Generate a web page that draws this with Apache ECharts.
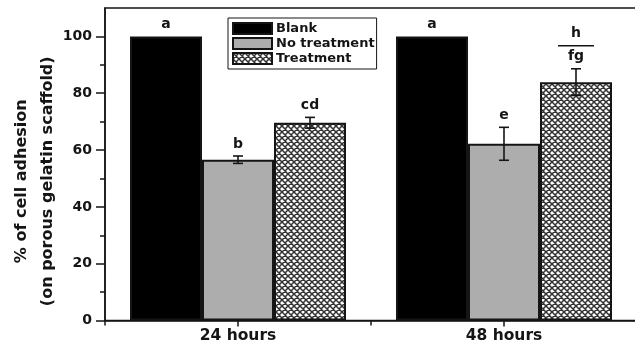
<!DOCTYPE html>
<html><head><meta charset="utf-8">
<script src="https://cdn.jsdelivr.net/npm/echarts@6/dist/echarts.min.js"></script>
<style>html,body{margin:0;padding:0;background:#fff}#c{width:635px;height:344px}</style>
</head><body><div id="c"></div>
<script>
const categories = ['24 hours', '48 hours'];
const seriesNames = ['Blank', 'No treatment', 'Treatment'];
const blankValues = [100, 100];
const noTreatmentValues = [56.6, 62.2];
const treatmentValues = [69.6, 83.9];
const blankErrors = [0, 0];
const noTreatmentErrors = [1.3, 5.8];
const treatmentErrors = [1.9, 4.7];
const blankLetters = ['a', 'a'];
const noTreatmentLetters = ['b', 'e'];
const treatmentLetters = ['cd', 'fg'];
const treatmentUpperLetters = ['', 'h'];
const yMajorTicks = [0, 20, 40, 60, 80, 100];
const yMinorTicks = [10, 30, 50, 70, 90];

const FONT = '"DejaVu Sans", "Liberation Sans", sans-serif';
const INK = '#151515';
const BAR_W = 72;

function meshPattern() {
  const s = 6;
  const c = document.createElement('canvas');
  c.width = s; c.height = s;
  const g = c.getContext('2d');
  g.fillStyle = '#ffffff';
  g.fillRect(0, 0, s, s);
  g.strokeStyle = '#333333';
  g.lineWidth = 1.5;
  g.beginPath();
  for (let k = -s; k <= s; k += s) {
    g.moveTo(k - 1, -1); g.lineTo(k + s + 1, s + 1);
    g.moveTo(k + s + 1, -1); g.lineTo(k - 1, s + 1);
  }
  g.stroke();
  return c;
}

const valueSets = [blankValues, noTreatmentValues, treatmentValues];
const errorSets = [blankErrors, noTreatmentErrors, treatmentErrors];
const letterSets = [blankLetters, noTreatmentLetters, treatmentLetters];
const fills = ['#000000', '#adadad', { image: meshPattern(), repeat: 'repeat' }];

const annData = [];
const annLetters = [];
const annUpper = [];
for (let s = 0; s < 3; s++) {
  for (let c = 0; c < categories.length; c++) {
    annData.push([c, s, valueSets[s][c], errorSets[s][c]]);
    annLetters.push(letterSets[s][c]);
    annUpper.push(s === 2 ? treatmentUpperLetters[c] : '');
  }
}

const barSeries = seriesNames.map((name, s) => ({
  name: name,
  type: 'bar',
  xAxisIndex: 0,
  yAxisIndex: 0,
  barWidth: BAR_W,
  barGap: '0%',
  data: valueSets[s],
  itemStyle: { color: fills[s], borderColor: INK, borderWidth: 2 },
  emphasis: { disabled: true },
  silent: true
}));

const offsets = [-BAR_W, 0, BAR_W];
const annSeries = {
  type: 'custom',
  xAxisIndex: 0,
  yAxisIndex: 0,
  z: 10,
  silent: true,
  encode: { x: 0, y: 2 },
  data: annData,
  renderItem: function (params, api) {
    const cat = api.value(0), si = api.value(1), val = api.value(2), err = api.value(3);
    const base = api.coord([cat, val]);
    const x = base[0] + offsets[si];
    const top = api.coord([cat, val + err])[1];
    const bot = api.coord([cat, val - err])[1];
    const ls = { stroke: INK, lineWidth: 1.6 };
    const children = [];
    if (err > 0) {
      children.push({ type: 'line', shape: { x1: x, y1: top, x2: x, y2: bot }, style: ls });
      children.push({ type: 'line', shape: { x1: x - 5, y1: top, x2: x + 5, y2: top }, style: ls });
      children.push({ type: 'line', shape: { x1: x - 5, y1: bot, x2: x + 5, y2: bot }, style: ls });
    }
    const ty = top - 12;
    children.push({ type: 'text', style: { text: annLetters[params.dataIndex], x: x, y: ty, align: 'center', verticalAlign: 'middle', font: 'bold 14px ' + FONT, fill: INK } });
    const up = annUpper[params.dataIndex];
    if (up) {
      children.push({ type: 'line', shape: { x1: x - 18, y1: ty - 11, x2: x + 18, y2: ty - 11 }, style: { stroke: INK, lineWidth: 1.5 } });
      children.push({ type: 'text', style: { text: up, x: x, y: ty - 23, align: 'center', verticalAlign: 'middle', font: 'bold 14px ' + FONT, fill: INK } });
    }
    return { type: 'group', children: children };
  }
};

const chart = echarts.init(document.getElementById('c'), null, { renderer: 'canvas' });
chart.setOption({
  animation: false,
  backgroundColor: '#ffffff',
  grid: { left: 105, top: 8, width: 532, bottom: 23.5, outerBoundsMode: 'none', containLabel: false, show: true, borderColor: INK, borderWidth: 1.5, backgroundColor: 'transparent' },
  legend: {
    data: seriesNames,
    orient: 'vertical',
    left: 228, top: 18,
    icon: 'rect',
    itemWidth: 39, itemHeight: 11, itemGap: 2,
    padding: [4, 2, 4, 4],
    borderColor: INK, borderWidth: 1,
    selectedMode: false,
    textStyle: { fontFamily: FONT, fontWeight: 'bold', fontSize: 13, lineHeight: 13, color: INK, padding: [0, 0, 0, -1] }
  },
  xAxis: [
    {
      type: 'category', data: categories, position: 'bottom',
      axisLine: { show: true, lineStyle: { color: INK, width: 1.5 } },
      axisTick: { show: true, alignWithLabel: false, interval: 0, length: 5, lineStyle: { color: INK, width: 1.5 } },
      axisLabel: { show: false }, splitLine: { show: false }
    },
    {
      type: 'category', data: categories, position: 'bottom',
      axisLine: { show: false },
      axisTick: { show: true, alignWithLabel: true, interval: 0, length: 6, lineStyle: { color: INK, width: 1.5 } },
      axisLabel: { show: true, interval: 0, margin: 7, fontFamily: FONT, fontWeight: 'bold', fontSize: 15.5, color: INK },
      splitLine: { show: false }
    }
  ],
  yAxis: [
    {
      type: 'value', min: 0, max: 110, position: 'left',
      name: '% of cell adhesion\n(on porous gelatin scaffold)',
      nameLocation: 'middle', nameGap: 44, nameMoveOverlap: false,
      nameTextStyle: { fontFamily: FONT, fontWeight: 'bold', fontSize: 16, lineHeight: 26, color: INK, padding: [0, 34, 0, 0] },
      axisLine: { show: true, lineStyle: { color: INK, width: 1.5 } },
      axisTick: { show: true, length: 9, customValues: yMajorTicks, lineStyle: { color: INK, width: 1.5 } },
      axisLabel: { show: true, customValues: yMajorTicks, margin: 13, fontFamily: FONT, fontWeight: 'bold', fontSize: 14, color: INK },
      splitLine: { show: false }
    },
    {
      type: 'value', min: 0, max: 110, position: 'left',
      axisLine: { show: false },
      axisTick: { show: true, length: 5, customValues: yMinorTicks, lineStyle: { color: INK, width: 1.5 } },
      axisLabel: { show: false }, splitLine: { show: false }
    }
  ],
  series: barSeries.concat([annSeries])
});
</script>
</body></html>
